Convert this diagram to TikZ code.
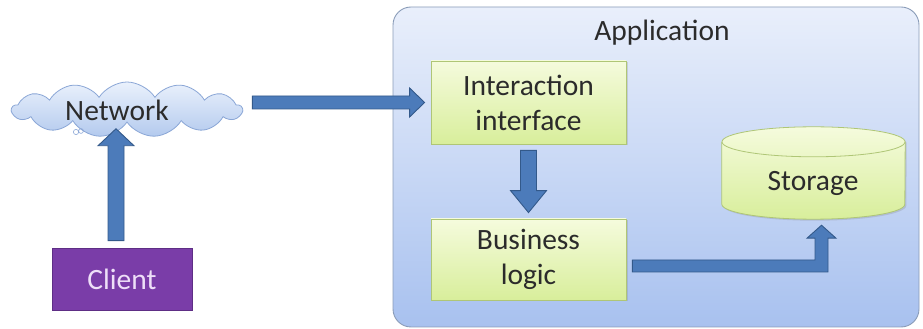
\documentclass[tikz,border=0pt]{standalone}
\usepackage{fontspec}
\setmainfont{Carlito}
\usetikzlibrary{shapes.symbols,shadows,calc}

\definecolor{appTop}{HTML}{E9EFFB}
\definecolor{appBot}{HTML}{A8C1EF}
\definecolor{appLine}{HTML}{8A9CB8}
\definecolor{boxTop}{HTML}{F5FBDD}
\definecolor{boxBot}{HTML}{D8EE9B}
\definecolor{boxLine}{HTML}{AFC676}
\definecolor{cloudTop}{HTML}{EAF1FC}
\definecolor{cloudBot}{HTML}{B3CAEE}
\definecolor{cloudLine}{HTML}{8AA6D6}
\definecolor{cliFill}{HTML}{7A3DA8}
\definecolor{cliLine}{HTML}{5E2E85}
\definecolor{cliText}{HTML}{EEDFF8}
\definecolor{arrFill}{HTML}{4C7BBA}
\definecolor{arrLine}{HTML}{33598A}
\definecolor{txt}{HTML}{2B2B2B}

\tikzset{
  x=1pt, y=1pt,
  lbl/.style={font=\fontsize{29.5}{35}\selectfont, text=txt, align=center},
  greenbox/.style={draw=boxLine, line width=0.8pt, top color=boxTop, bottom color=boxBot,
    minimum width=195pt, inner sep=0pt, lbl,
    drop shadow={shadow xshift=1.5pt, shadow yshift=-1.5pt, opacity=0.25}},
  blockarrow/.style={fill=arrFill, draw=arrLine, line width=0.9pt, line join=miter},
}

\begin{document}
\begin{tikzpicture}
\useasboundingbox (0,0) rectangle (923,329);

% application frame
\node[draw=appLine, line width=0.9pt, rounded corners=18pt, top color=appTop, bottom color=appBot,
  minimum width=526pt, minimum height=320pt, inner sep=0pt] (app) at (656,162) {};
\node[lbl] (apptitle) at (662,296) {Application};

% inner components
\node[greenbox, minimum height=83pt] (ii) at (528.5,226.5) {Interaction\\interface};
\node[greenbox, minimum height=81pt] (bl) at (528.5,69.5) {Business\\logic};

% storage cylinder
\node[minimum width=183pt, minimum height=92pt, inner sep=0pt] (sto) at (813.5,156) {};
\shade[top color=boxTop, bottom color=boxBot,
  drop shadow={shadow xshift=1.5pt, shadow yshift=-1.5pt, opacity=0.25}]
  ($(sto.north west)+(0,-15)$) -- ($(sto.south west)+(0,15)$)
  arc[start angle=180, end angle=360, x radius=91.5, y radius=15]
  -- ($(sto.north east)+(0,-15)$)
  arc[start angle=0, end angle=180, x radius=91.5, y radius=15] -- cycle;
\draw[boxLine, line width=0.8pt]
  ($(sto.north west)+(0,-15)$) -- ($(sto.south west)+(0,15)$)
  arc[start angle=180, end angle=360, x radius=91.5, y radius=15]
  -- ($(sto.north east)+(0,-15)$);
\draw[boxLine, line width=0.8pt] ($(sto.north)+(0,-15)$) ellipse[x radius=91.5, y radius=15];
\node[lbl] (stolabel) at (813,146) {Storage};

% network cloud
\node[cloud, cloud puffs=13, cloud puff arc=115, aspect=4.2, draw=cloudLine, line width=0.8pt,
  top color=cloudTop, bottom color=cloudBot, minimum width=230pt, minimum height=55pt,
  inner sep=0pt] (net) at (127,219.5) {};
\node[lbl] (netlabel) at (117,219) {Network};
\draw[cloudLine, line width=0.6pt] (76,197) circle[radius=2.6] (81,198) circle[radius=2.4];

% client
\node[draw=cliLine, line width=0.8pt, fill=cliFill, minimum width=140pt, minimum height=62pt,
  inner sep=0pt, font=\fontsize{29.5}{35}\selectfont, text=cliText] (cli) at (122,50) {Client};

% client -> network
\filldraw[blockarrow] let \p1=(cli.north), \p2=(net.south) in
  (\x1-14pt,\y1+7pt) -- (\x1-14pt,\y2-23pt) -- (\x1-24pt,\y2-23pt) -- (\x1-6pt,\y2-6pt)
  -- (\x1+12pt,\y2-23pt) -- (\x1+2pt,\y2-23pt) -- (\x1+2pt,\y1+7pt) -- cycle;

% network -> interaction interface
\filldraw[blockarrow] let \p1=(net.east), \p2=(ii.west) in
  (\x1+9pt,\y2+6.5pt) -- (\x2-21pt,\y2+6.5pt) -- (\x2-21pt,\y2+14.5pt) -- (\x2-6pt,\y2)
  -- (\x2-21pt,\y2-14.5pt) -- (\x2-21pt,\y2-6.5pt) -- (\x1+9pt,\y2-6.5pt) -- cycle;

% interaction interface -> business logic
\filldraw[blockarrow] let \p1=(ii.south), \p2=(bl.north) in
  (\x1-8pt,\y1-6pt) -- (\x1-8pt,\y2+28pt) -- (\x1-18pt,\y2+28pt) -- (\x1,\y2+6pt)
  -- (\x1+18pt,\y2+28pt) -- (\x1+8pt,\y2+28pt) -- (\x1+8pt,\y1-6pt) -- cycle;

% business logic -> storage
\filldraw[blockarrow] let \p1=(bl.east), \p2=(sto.south) in
  (\x1+6pt,\y1-12.5pt) -- (\x2+14.5pt,\y1-12.5pt) -- (\x2+14.5pt,\y2-19pt)
  -- (\x2+22.5pt,\y2-19pt) -- (\x2+8pt,\y2-6pt) -- (\x2-6.5pt,\y2-19pt)
  -- (\x2+1.5pt,\y2-19pt) -- (\x2+1.5pt,\y1-0.5pt) -- (\x1+6pt,\y1-0.5pt) -- cycle;
\end{tikzpicture}
\end{document}
